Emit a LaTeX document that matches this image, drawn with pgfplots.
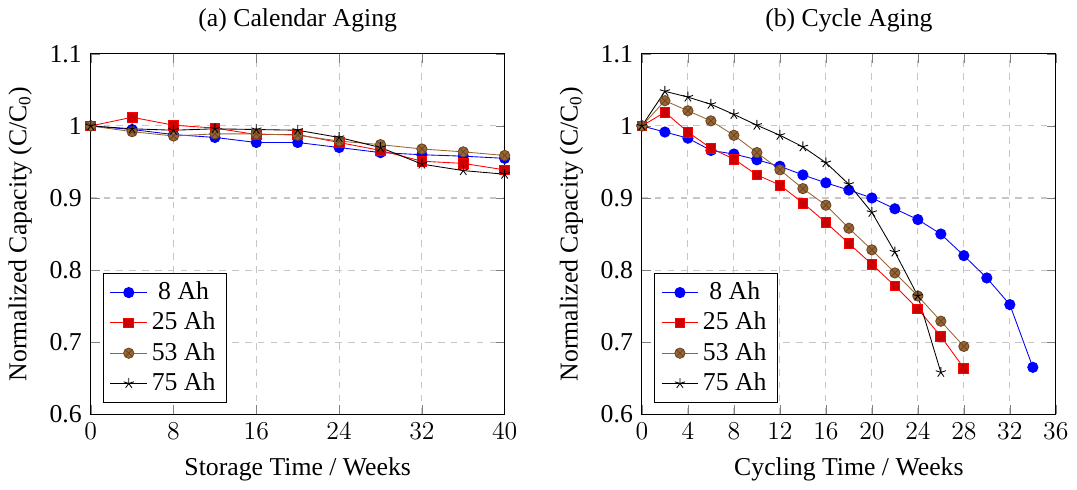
\documentclass[border=0pt,12pt]{standalone}
\usepackage{pgfplots}
\pgfplotsset{compat=1.18}
\usepackage{fontspec}
\setmainfont{Liberation Serif}
\definecolor{mybrown}{RGB}{153,102,51}
\pgfplotsset{
  myax/.style={
    scale only axis,
    width=193pt, height=168pt,
    ymin=0.6, ymax=1.1,
    ytick={0.6,0.7,0.8,0.9,1.0,1.1},
    yticklabels={0.6,0.7,0.8,0.9,1,1.1},
    grid=major,
    major grid style={dashed, gray!45, line width=0.5pt},
    ylabel={Normalized Capacity (C/C\textsubscript{0})},
    legend pos=south west,
    legend style={font=\normalsize},
  },
  s8/.style={blue, mark=*, mark size=2.4pt, mark options={fill=blue}},
  s25/.style={red, mark=square*, mark size=2.3pt, mark options={fill=red!80!black, draw=red}},
  s53/.style={mybrown, mark=otimes*, mark size=2.4pt, mark options={fill=mybrown, draw=mybrown!70!black}},
  s75/.style={black, mark=star, mark size=2.5pt},
}
\begin{document}
\begin{tikzpicture}
\begin{axis}[myax, at={(0,0)},
  xmin=0, xmax=40, xtick={0,8,16,24,32,40},
  xlabel={Storage Time / Weeks},
  title={(a) Calendar Aging}]
\addplot[s8] coordinates {(0,1.0)(4,0.995)(8,0.988)(12,0.984)(16,0.977)(20,0.977)(24,0.970)(28,0.963)(32,0.960)(36,0.958)(40,0.955)};
\addlegendentry{8 Ah}
\addplot[s25] coordinates {(0,1.0)(4,1.012)(8,1.001)(12,0.997)(16,0.988)(20,0.988)(24,0.977)(28,0.966)(32,0.951)(36,0.948)(40,0.939)};
\addlegendentry{25 Ah}
\addplot[s53] coordinates {(0,1.0)(4,0.992)(8,0.986)(12,0.989)(16,0.989)(20,0.987)(24,0.979)(28,0.974)(32,0.968)(36,0.964)(40,0.959)};
\addlegendentry{53 Ah}
\addplot[s75] coordinates {(0,1.0)(4,0.996)(8,0.994)(12,0.996)(16,0.995)(20,0.994)(24,0.984)(28,0.970)(32,0.947)(36,0.938)(40,0.933)};
\addlegendentry{75 Ah}
\end{axis}
\begin{axis}[myax, at={(257pt,0)},
  xmin=0, xmax=36, xtick={0,4,8,12,16,20,24,28,32,36},
  xlabel={Cycling Time / Weeks},
  title={(b) Cycle Aging}]
\addplot[s8] coordinates {(0,1.0)(2,0.9915)(4,0.983)(6,0.966)(8,0.961)(10,0.953)(12,0.944)(14,0.932)(16,0.921)(18,0.911)(20,0.900)(22,0.885)(24,0.870)(26,0.850)(28,0.820)(30,0.789)(32,0.752)(34,0.665)};
\addlegendentry{8 Ah}
\addplot[s25] coordinates {(0,1.0)(2,1.019)(4,0.9915)(6,0.969)(8,0.954)(10,0.932)(12,0.918)(14,0.893)(16,0.866)(18,0.837)(20,0.808)(22,0.778)(24,0.746)(26,0.708)(28,0.664)};
\addlegendentry{25 Ah}
\addplot[s53] coordinates {(0,1.0)(2,1.035)(4,1.021)(6,1.007)(8,0.987)(10,0.963)(12,0.939)(14,0.913)(16,0.890)(18,0.858)(20,0.828)(22,0.796)(24,0.764)(26,0.729)(28,0.694)};
\addlegendentry{53 Ah}
\addplot[s75] coordinates {(0,1.0)(2,1.048)(4,1.040)(6,1.030)(8,1.016)(10,1.001)(12,0.987)(14,0.971)(16,0.949)(18,0.919)(20,0.880)(22,0.825)(24,0.764)(26,0.658)};
\addlegendentry{75 Ah}
\end{axis}
\end{tikzpicture}
\end{document}
